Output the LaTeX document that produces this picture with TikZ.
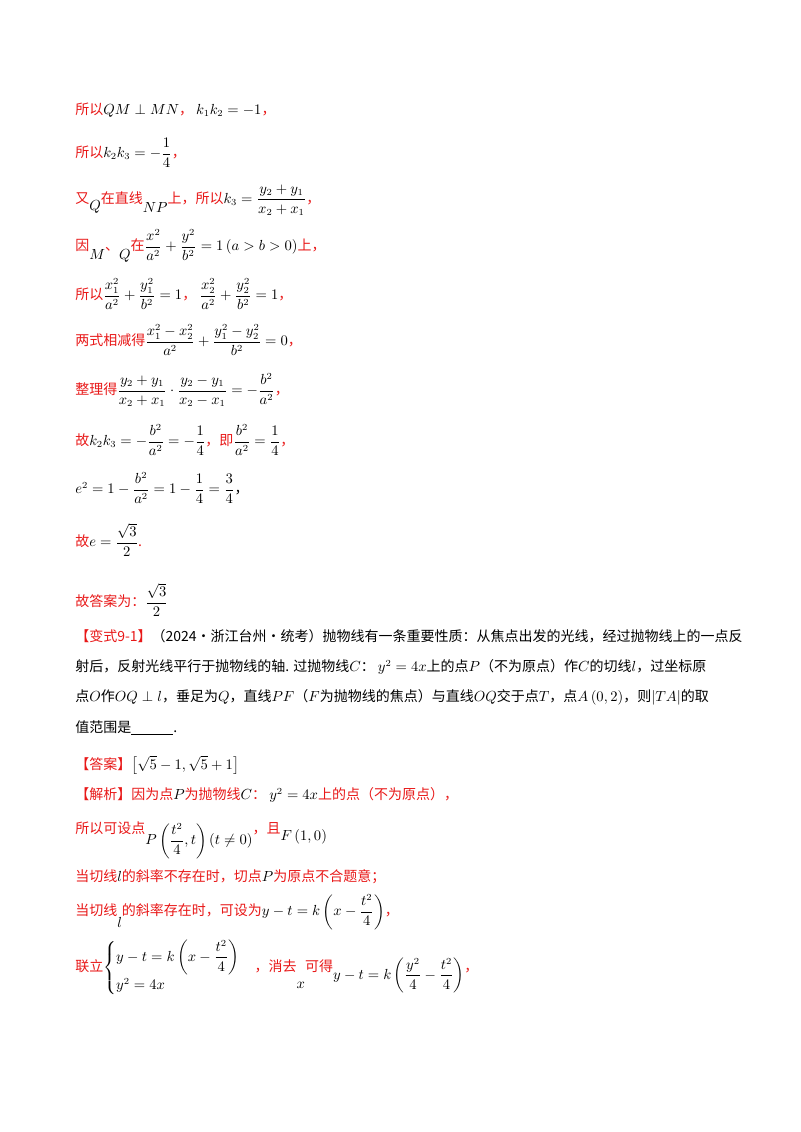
\documentclass[tikz,border=0pt]{standalone}
\usepackage{amsmath}
\usepackage{fontspec}
\setmainfont{Noto Sans CJK SC}
\definecolor{rd}{RGB}{232,24,24}
\begin{document}
\begin{tikzpicture}[x=0.75pt,y=-0.75pt]
\tikzset{ln/.style={anchor=west,inner sep=0pt,font=\fontsize{10.5pt}{13pt}\selectfont}}
\useasboundingbox (0,0) rectangle (800,1132);
\node[ln] (l1) at (75,110) {\color{rd}所以$\color{black}QM\perp MN$，\ $\color{black}k_1k_2=-1$，};
\node[ln] (l2) at (75,153) {\color{rd}所以$\color{black}k_2k_3=-\dfrac14$，};
\node[ln] (l3) at (75,200) {\color{rd}又\raisebox{-1ex}{$\color{black}Q$}在直线\raisebox{-1.3ex}{$\color{black}NP$}上，所以$\color{black}k_3=\dfrac{y_2+y_1}{x_2+x_1}$，};
\node[ln] (l4) at (75,246) {\color{rd}因\raisebox{-1.2ex}{$\color{black}M$}、\raisebox{-1.2ex}{$\color{black}Q$}在$\color{black}\dfrac{x^2}{a^2}+\dfrac{y^2}{b^2}=1\left(a>b>0\right)$上，};
\node[ln] (l5) at (75,294) {\color{rd}所以$\color{black}\dfrac{x_1^2}{a^2}+\dfrac{y_1^2}{b^2}=1$，\ $\color{black}\dfrac{x_2^2}{a^2}+\dfrac{y_2^2}{b^2}=1$，};
\node[ln] (l6) at (75,340) {\color{rd}两式相减得$\color{black}\dfrac{x_1^2-x_2^2}{a^2}+\dfrac{y_1^2-y_2^2}{b^2}=0$，};
\node[ln] (l7) at (75,390) {\color{rd}整理得$\color{black}\dfrac{y_2+y_1}{x_2+x_1}\cdot\dfrac{y_2-y_1}{x_2-x_1}=-\dfrac{b^2}{a^2}$，};
\node[ln] (l8) at (75,440) {\color{rd}故$\color{black}k_2k_3=-\dfrac{b^2}{a^2}=-\dfrac14$，即$\color{black}\dfrac{b^2}{a^2}=\dfrac14$，};
\node[ln] (l9) at (75,488) {$e^2=1-\dfrac{b^2}{a^2}=1-\dfrac14=\dfrac34$，};
\node[ln] (l10) at (75,540) {\color{rd}故$\color{black}e=\dfrac{\sqrt3}{2}$.};
\node[ln] (l11) at (75,600) {\color{rd}故答案为：$\color{black}\dfrac{\sqrt3}{2}$};
\node[ln] (p1) at (75,636) {{\color{rd}【变式9-1】}（2024·浙江台州·统考）抛物线有一条重要性质：从焦点出发的光线，经过抛物线上的一点反};
\node[ln] (p2) at (75,667) {射后，反射光线平行于抛物线的轴. 过抛物线$C$：\ $y^2=4x$上的点$P$（不为原点）作$C$的切线$l$，过坐标原};
\node[ln] (p3) at (75,697) {点$O$作$OQ\perp l$，垂足为$Q$，直线$PF$（$F$为抛物线的焦点）与直线$OQ$交于点$T$，点$A\left(0,2\right)$，则$\left|TA\right|$的取};
\node[ln] (p4) at (75,728) {值范围是\underline{\hspace{3em}}.};
\node[ln] (a1) at (75,765) {\color{rd}【答案】$\color{black}\left[\sqrt5-1,\sqrt5+1\right]$};
\node[ln] (a2) at (75,795) {\color{rd}【解析】因为点$\color{black}P$为抛物线$\color{black}C$：\ $\color{black}y^2=4x$上的点（不为原点），};
\node[ln] (a3) at (75,840) {\color{rd}所以可设点\raisebox{-1.5ex}{$\color{black}P\left(\dfrac{t^2}{4},t\right)\left(t\neq0\right)$}，且\raisebox{-1ex}{$\color{black}F\left(1,0\right)$}};
\node[ln] (a4) at (75,877) {\color{rd}当切线$\color{black}l$的斜率不存在时，切点$\color{black}P$为原点不合题意；};
\node[ln] (a5) at (75,912) {\color{rd}当切线\raisebox{-1.5ex}{$\color{black}l$}的斜率存在时，可设为$\color{black}y-t=k\left(x-\dfrac{t^2}{4}\right)$，};
\node[ln] (a6) at (75,968) {\color{rd}联立$\color{black}\begin{cases}y-t=k\left(x-\dfrac{t^2}{4}\right)\\[1ex] y^2=4x\end{cases}$，消去\raisebox{-2.2ex}{$\color{black}x$}可得\raisebox{-1ex}{$\color{black}y-t=k\left(\dfrac{y^2}{4}-\dfrac{t^2}{4}\right)$}，};
\end{tikzpicture}
\end{document}
